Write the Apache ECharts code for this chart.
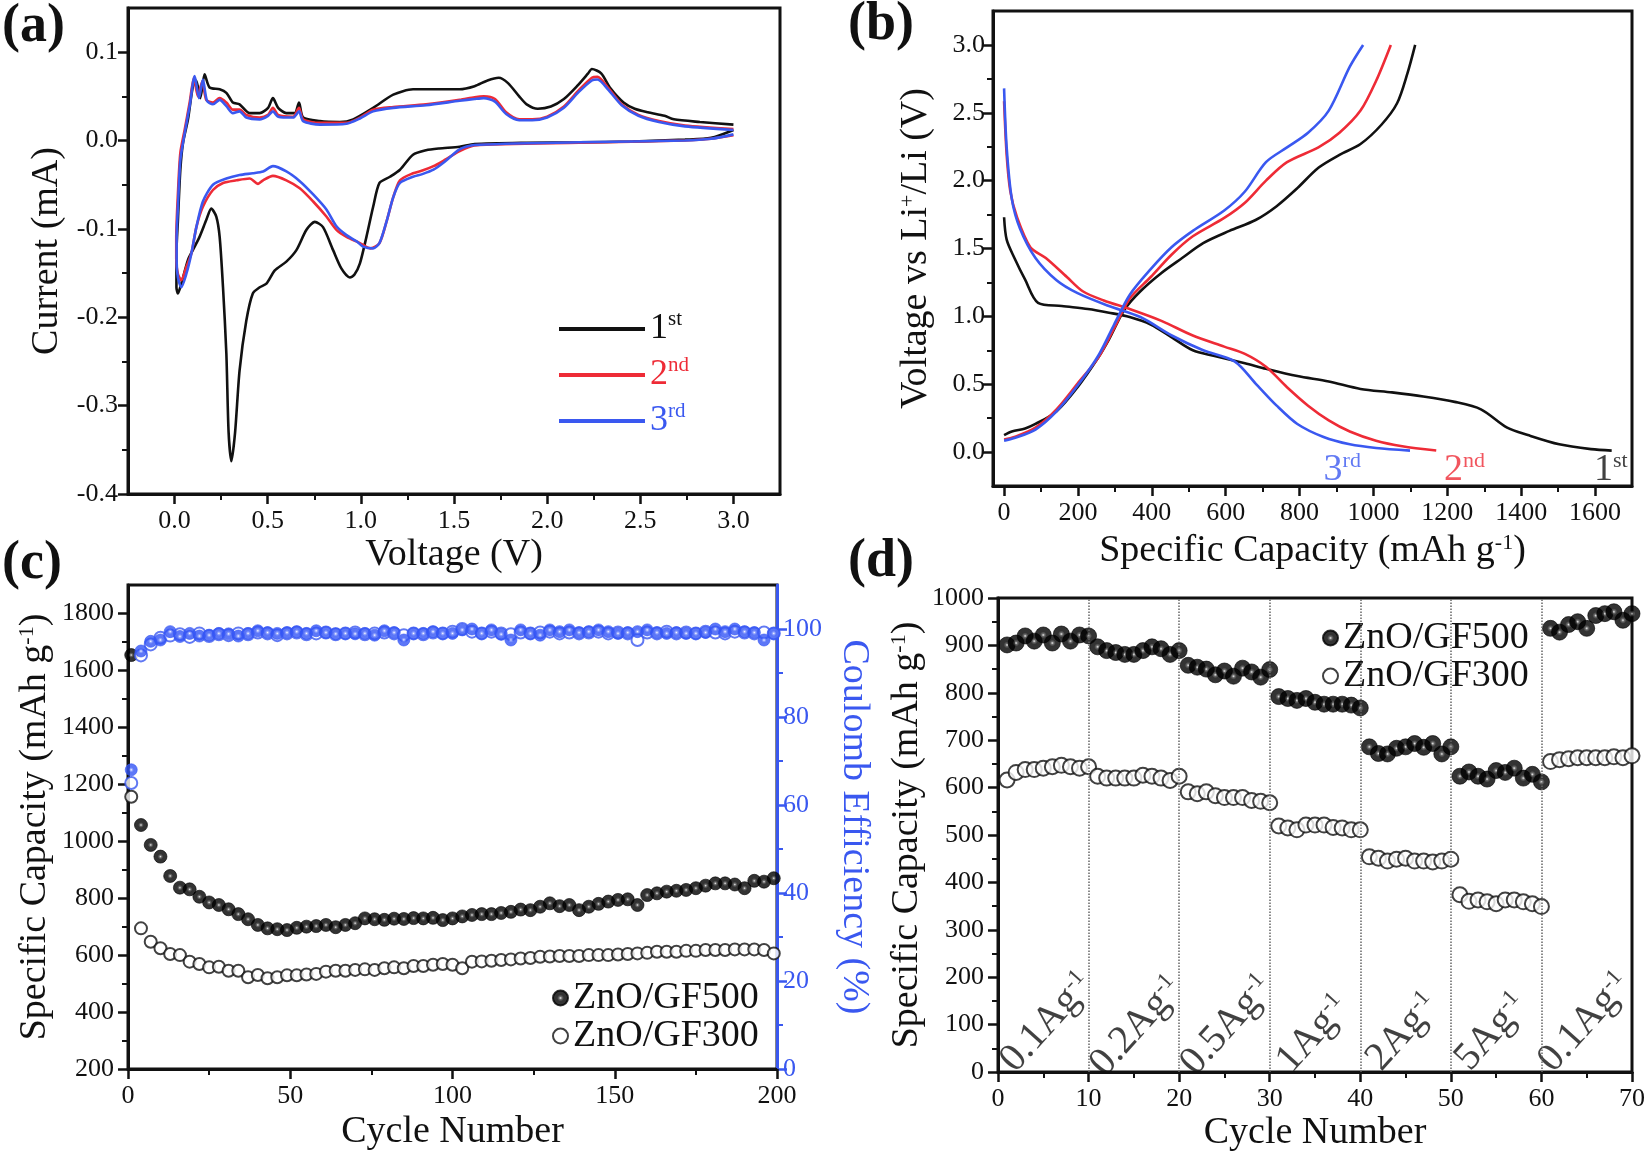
<!DOCTYPE html>
<html>
<head>
<meta charset="utf-8">
<script src="https://cdn.jsdelivr.net/npm/echarts@6/dist/echarts.min.js"></script>
<style>
  html, body { margin: 0; padding: 0; background: #fff; }
  #chart { width: 1649px; height: 1155px; }
</style>
</head>
<body>
<div id="chart"></div>
<script>
// ---- (a) cyclic voltammetry, [voltage V, current mA] in sweep order ----
const cv1st = [[3.0,0.012],[2.88,0.003],[2.74,0.001],[2.46,-0.001],[2.17,-0.002],[1.89,-0.0025],[1.61,-0.004],[1.53,-0.007],[1.42,-0.009],[1.35,-0.011],[1.28,-0.016],[1.21,-0.033],[1.156,-0.041],[1.10,-0.048],[1.066,-0.075],[1.03,-0.109],[0.995,-0.139],[0.965,-0.152],[0.941,-0.155],[0.896,-0.145],[0.851,-0.124],[0.797,-0.098],[0.753,-0.092],[0.708,-0.101],[0.654,-0.124],[0.60,-0.137],[0.538,-0.147],[0.493,-0.162],[0.457,-0.166],[0.42,-0.173],[0.385,-0.204],[0.349,-0.26],[0.325,-0.33],[0.305,-0.363],[0.29,-0.33],[0.278,-0.241],[0.26,-0.166],[0.242,-0.109],[0.224,-0.086],[0.197,-0.077],[0.17,-0.09],[0.134,-0.109],[0.098,-0.124],[0.072,-0.135],[0.036,-0.162],[0.018,-0.173],[0.01,-0.166],
  [0.01,-0.128],[0.018,-0.09],[0.031,-0.033],[0.045,-0.003],[0.072,0.024],[0.098,0.061],[0.116,0.068],[0.138,0.048],[0.161,0.075],[0.188,0.06],[0.242,0.058],[0.278,0.054],[0.313,0.043],[0.349,0.041],[0.403,0.031],[0.457,0.031],[0.502,0.037],[0.528,0.048],[0.556,0.037],[0.60,0.031],[0.645,0.031],[0.668,0.043],[0.69,0.026],[0.78,0.022],[0.887,0.021],[0.959,0.024],[1.066,0.037],[1.174,0.052],[1.28,0.058],[1.53,0.058],[1.61,0.0615],[1.68,0.068],[1.74,0.071],[1.79,0.065],[1.85,0.050],[1.89,0.041],[1.95,0.036],[2.02,0.0385],[2.09,0.047],[2.16,0.0615],[2.22,0.076],[2.24,0.081],[2.29,0.076],[2.34,0.059],[2.41,0.043],[2.47,0.036],[2.54,0.032],[2.63,0.028],[2.68,0.024],[2.82,0.021],[3.0,0.018]];
const cv2nd = [[3.0,0.006],[2.88,0.002],[2.74,0.0],[2.17,-0.0025],[1.61,-0.0055],[1.53,-0.012],[1.45,-0.022],[1.39,-0.029],[1.33,-0.034],[1.28,-0.037],[1.21,-0.045],[1.174,-0.064],[1.14,-0.09],[1.10,-0.116],[1.05,-0.122],[0.995,-0.116],[0.923,-0.109],[0.869,-0.101],[0.815,-0.086],[0.744,-0.069],[0.672,-0.054],[0.60,-0.045],[0.528,-0.040],[0.475,-0.045],[0.448,-0.049],[0.403,-0.043],[0.332,-0.045],[0.26,-0.048],[0.206,-0.056],[0.152,-0.075],[0.117,-0.098],[0.09,-0.128],[0.063,-0.143],[0.036,-0.158],[0.018,-0.151],[0.009,-0.134],
  [0.009,-0.11],[0.018,-0.06],[0.031,-0.014],[0.054,0.012],[0.081,0.043],[0.104,0.071],[0.125,0.05],[0.149,0.067],[0.17,0.046],[0.206,0.043],[0.242,0.048],[0.278,0.043],[0.313,0.035],[0.349,0.035],[0.385,0.029],[0.457,0.026],[0.502,0.029],[0.528,0.037],[0.556,0.029],[0.636,0.027],[0.668,0.037],[0.69,0.024],[0.78,0.020],[0.923,0.020],[0.995,0.026],[1.066,0.035],[1.174,0.038],[1.35,0.041],[1.53,0.046],[1.61,0.049],[1.66,0.050],[1.72,0.047],[1.78,0.032],[1.85,0.024],[1.92,0.024],[2.0,0.027],[2.09,0.0385],[2.17,0.057],[2.24,0.071],[2.27,0.072],[2.33,0.059],[2.40,0.041],[2.49,0.029],[2.60,0.022],[2.74,0.017],[3.0,0.013]];
const cv3rd = [[3.0,0.007],[2.88,0.002],[2.74,0.0],[2.17,-0.002],[1.61,-0.005],[1.53,-0.010],[1.45,-0.024],[1.39,-0.033],[1.33,-0.038],[1.28,-0.041],[1.21,-0.048],[1.174,-0.064],[1.14,-0.09],[1.10,-0.116],[1.066,-0.122],[1.012,-0.12],[0.977,-0.114],[0.923,-0.107],[0.869,-0.097],[0.815,-0.078],[0.744,-0.061],[0.672,-0.046],[0.60,-0.035],[0.528,-0.029],[0.475,-0.035],[0.42,-0.037],[0.349,-0.039],[0.278,-0.043],[0.206,-0.050],[0.152,-0.069],[0.117,-0.098],[0.09,-0.128],[0.063,-0.151],[0.036,-0.166],[0.018,-0.155],[0.011,-0.136],
  [0.011,-0.11],[0.018,-0.075],[0.031,-0.022],[0.054,0.008],[0.081,0.039],[0.108,0.073],[0.131,0.048],[0.152,0.069],[0.174,0.045],[0.206,0.041],[0.242,0.046],[0.278,0.039],[0.313,0.031],[0.349,0.033],[0.385,0.026],[0.457,0.024],[0.502,0.028],[0.528,0.033],[0.556,0.027],[0.636,0.026],[0.668,0.033],[0.69,0.022],[0.78,0.018],[0.923,0.019],[0.995,0.025],[1.066,0.033],[1.174,0.037],[1.35,0.040],[1.53,0.045],[1.61,0.047],[1.66,0.048],[1.72,0.044],[1.78,0.030],[1.85,0.023],[1.92,0.023],[2.0,0.026],[2.09,0.037],[2.17,0.055],[2.24,0.068],[2.27,0.069],[2.33,0.057],[2.40,0.040],[2.49,0.028],[2.60,0.021],[2.74,0.016],[3.0,0.012]];

// ---- (b) charge/discharge profiles, [capacity mAh/g, voltage V] ----
const dis1st = [[0,1.73],[7,1.565],[28,1.43],[57,1.27],[92,1.10],[156,1.076],[227,1.054],[284,1.027],[340,0.995],[397,0.94],[454,0.845],[511,0.75],[567,0.71],[652,0.655],[709,0.614],[794,0.56],[879,0.52],[965,0.465],[1050,0.44],[1135,0.41],[1220,0.37],[1291,0.315],[1362,0.18],[1418,0.125],[1503,0.057],[1589,0.022],[1645,0.011]];
const chg1st = [[0,0.125],[21,0.152],[57,0.174],[85,0.207],[142,0.30],[199,0.478],[255,0.696],[284,0.83],[326,1.05],[369,1.185],[426,1.32],[482,1.43],[539,1.54],[610,1.63],[681,1.71],[737,1.81],[794,1.945],[851,2.095],[908,2.19],[965,2.27],[1021,2.41],[1064,2.57],[1092,2.79],[1113,3.0]];
const dis2nd = [[0,2.585],[7,2.19],[17,1.92],[35,1.73],[71,1.51],[113,1.43],[170,1.29],[213,1.185],[270,1.117],[340,1.054],[426,0.967],[511,0.859],[596,0.777],[652,0.723],[709,0.628],[766,0.478],[823,0.342],[879,0.234],[936,0.152],[1007,0.084],[1078,0.043],[1170,0.011]];
const chg2nd = [[0,0.092],[28,0.111],[85,0.18],[142,0.315],[199,0.505],[255,0.696],[298,0.913],[340,1.13],[397,1.29],[454,1.456],[511,1.59],[596,1.725],[652,1.837],[709,2.0],[766,2.136],[851,2.245],[908,2.353],[965,2.516],[1007,2.734],[1047,3.0]];
const dis3rd = [[0,2.68],[7,2.245],[21,1.864],[43,1.647],[85,1.43],[142,1.266],[199,1.171],[284,1.076],[369,0.995],[454,0.859],[539,0.75],[624,0.668],[681,0.505],[738,0.342],[794,0.207],[865,0.111],[936,0.057],[1007,0.030],[1099,0.011]];
const chg3rd = [[0,0.084],[28,0.103],[85,0.166],[142,0.30],[199,0.49],[255,0.71],[298,0.94],[340,1.158],[397,1.348],[454,1.511],[511,1.63],[596,1.78],[652,1.92],[709,2.136],[766,2.245],[823,2.353],[879,2.516],[936,2.84],[972,3.0]];

// ---- (c) long cycling ----
const cyclesC = [1,4,7,10,13,16,19,22,25,28,31,34,37,40,43,46,49,52,55,58,61,64,67,70,73,76,79,82,85,88,91,94,97,100,103,106,109,112,115,118,121,124,127,130,133,136,139,142,145,148,151,154,157,160,163,166,169,172,175,178,181,184,187,190,193,196,199];
const capGF500 = [1654,1057,987,946,878,837,831,805,785,776,761,744,726,706,694,691,688,696,700,702,706,698,706,712,729,726,724,728,727,730,729,731,723,729,736,741,744,744,748,752,760,758,770,782,772,776,758,770,780,788,794,796,776,811,817,823,826,829,835,844,852,852,848,835,861,858,870];
const capGF300 = [1156,694,647,624,604,600,577,569,557,559,545,545,522,530,519,522,529,529,532,534,542,545,545,548,550,548,554,557,554,562,562,566,569,566,554,577,578,580,583,585,588,590,594,595,597,597,597,600,600,600,602,604,606,608,612,612,612,615,615,618,618,618,620,620,620,618,606];
const ceGF500 = [68,95,97.2,97.5,99.4,98.3,99.0,98.4,98.6,99.0,98.9,98.4,99.0,99.6,99.2,99.0,99.2,99.4,99.0,99.6,99.2,98.9,99.0,98.9,99.0,98.6,99.6,99.2,97.5,99.0,99.0,99.4,99.0,99.0,99.8,100.0,99.0,99.8,98.8,97.5,99.8,99.0,98.6,99.8,99.4,99.8,99.2,99.4,99.8,99.4,99.0,99.2,99.4,99.8,99.2,99.0,99.2,99.0,99.0,99.2,100.0,99.4,100.0,99.4,99.2,97.5,99.0];
const ceGF300 = [65,94,96.5,98,98.5,98.8,98.2,99.0,98.4,98.8,98.6,99.0,98.8,99.2,99.0,98.6,99.0,99.2,98.8,99.0,99.2,98.8,99.0,99.2,98.8,99.0,99.2,99.0,98.6,99.0,98.8,99.2,99.0,99.4,100.0,99.4,99.0,99.4,99.0,98.8,99.2,99.0,99.2,99.4,99.0,99.2,99.0,99.2,99.4,99.0,99.2,99.0,97.5,99.2,99.0,99.4,99.0,99.2,99.0,99.4,99.2,99.0,99.4,99.2,99.0,99.2,99.0];

// ---- (d) rate capability ----
const cyclesD = [1,2,3,4,5,6,7,8,9,10,11,12,13,14,15,16,17,18,19,20,21,22,23,24,25,26,27,28,29,30,31,32,33,34,35,36,37,38,39,40,41,42,43,44,45,46,47,48,49,50,51,52,53,54,55,56,57,58,59,60,61,62,63,64,65,66,67,68,69,70];
const rateGF500 = [901,905,920,909,922,905,924,909,922,920,897,889,885,881,881,889,897,893,881,889,858,854,850,838,846,835,852,844,833,849,792,788,784,788,780,776,776,776,774,768,686,672,671,683,686,693,685,693,671,686,624,633,624,618,636,632,641,620,628,612,936,928,944,950,936,963,967,971,953,967];
const rateGF300 = [616,632,638,638,641,644,647,644,641,644,624,620,620,620,620,626,624,620,615,624,591,587,591,583,579,579,579,573,571,568,519,515,511,521,521,521,516,515,511,511,454,451,445,449,451,445,445,443,445,449,374,360,363,359,355,363,363,359,355,349,655,659,661,663,663,663,663,665,663,667];
const rateSteps = [10,20,30,40,50,60];
const rateNames = ['0.1Ag{s|-1}','0.2Ag{s|-1}','0.5Ag{s|-1}','1Ag{s|-1}','2Ag{s|-1}','5Ag{s|-1}','0.1Ag{s|-1}'];
const rateNameAt = [[5.4,104],[15.3,96],[25.3,98],[34.8,80],[44.7,84],[54.5,84],[64.8,104]];

const cycleTags = ['1st','2nd','3rd'];
const cycleTagAt = [[1597,-0.13],[1191,-0.13],[865,-0.13]];

const FONT = '"Liberation Serif", "Times New Roman", serif';
const INK = '#111';
const RED = '#ee2b36';
const BLUE = '#3a58f0';

const chart = echarts.init(document.getElementById('chart'));

const supRich = (size, color) => ({ s: { fontFamily: FONT, fontSize: size, verticalAlign: 'top', color: color } });

// major axis (line, long ticks, labels, name) and a twin that only draws short minor ticks
function axisPair(grid, o) {
  const color = o.color || INK;
  const major = {
    type: 'value', gridIndex: grid, min: o.min, max: o.max, position: o.pos,
    axisLine: { show: true, onZero: false, lineStyle: { color: color, width: 3 } },
    axisTick: { show: true, inside: false, length: 10, customValues: o.ticks, lineStyle: { color: color, width: 2.5 } },
    axisLabel: { show: true, customValues: o.ticks, margin: o.margin, fontFamily: FONT, fontSize: 26, color: color, formatter: o.fmt || (v => String(v)) },
    splitLine: { show: false },
    name: o.name, nameLocation: 'middle', nameGap: o.gap, nameRotate: o.rotate,
    nameTextStyle: { fontFamily: FONT, fontSize: 38, color: color, rich: supRich(22, color) }
  };
  const minor = {
    type: 'value', gridIndex: grid, min: o.min, max: o.max, position: o.pos,
    axisLine: { show: false, onZero: false },
    axisTick: { show: true, inside: false, length: 6, customValues: o.minor, lineStyle: { color: color, width: 2 } },
    axisLabel: { show: false },
    splitLine: { show: false }
  };
  return [major, minor];
}

const f1 = v => v.toFixed(1);
const capName = 'Specific Capacity (mAh g{s|-1})';

const xAxes = [
  ...axisPair(0, { pos: 'bottom', min: -0.25, max: 3.25, ticks: [0,0.5,1,1.5,2,2.5,3], minor: [0.25,0.75,1.25,1.75,2.25,2.75], fmt: f1, margin: 14, name: 'Voltage (V)', gap: 42 }),
  ...axisPair(1, { pos: 'bottom', min: -30, max: 1700, ticks: [0,200,400,600,800,1000,1200,1400,1600], minor: [100,300,500,700,900,1100,1300,1500], margin: 14, name: capName, gap: 46 }),
  ...axisPair(2, { pos: 'bottom', min: 0, max: 200, ticks: [0,50,100,150,200], minor: [25,75,125,175], margin: 14, name: 'Cycle Number', gap: 44 }),
  ...axisPair(3, { pos: 'bottom', min: 0, max: 70, ticks: [0,10,20,30,40,50,60,70], minor: [5,15,25,35,45,55,65], margin: 14, name: 'Cycle Number', gap: 42 })
];
const yAxes = [
  ...axisPair(0, { pos: 'left', min: -0.4, max: 0.15, ticks: [-0.4,-0.3,-0.2,-0.1,0,0.1], minor: [-0.35,-0.25,-0.15,-0.05,0.05], fmt: f1, margin: 10, name: 'Current (mA)', gap: 62 }),
  ...axisPair(1, { pos: 'left', min: -0.25, max: 3.25, ticks: [0,0.5,1,1.5,2,2.5,3], minor: [0.25,0.75,1.25,1.75,2.25,2.75], fmt: f1, margin: 8, name: 'Voltage vs Li{s|+}/Li (V)', gap: 58 }),
  ...axisPair(2, { pos: 'left', min: 200, max: 1900, ticks: [200,400,600,800,1000,1200,1400,1600,1800], minor: [300,500,700,900,1100,1300,1500,1700], margin: 14, name: capName, gap: 74 }),
  ...axisPair(2, { pos: 'right', min: 0, max: 110, ticks: [0,20,40,60,80,100], minor: [10,30,50,70,90], margin: 6, name: 'Coulomb Efficiency (%)', gap: 58, rotate: -90, color: BLUE }),
  ...axisPair(3, { pos: 'left', min: 0, max: 1000, ticks: [0,100,200,300,400,500,600,700,800,900,1000], minor: [50,150,250,350,450,550,650,750,850,950], margin: 14, name: capName, gap: 72 })
];

const ball = (core, mid, edge) => ({
  type: 'radial', x: 0.5, y: 0.5, r: 0.5,
  colorStops: [{ offset: 0, color: core }, { offset: 0.18, color: mid }, { offset: 0.4, color: edge }, { offset: 1, color: edge }]
});
const blackBall = ball('#e8e8e8', '#444', '#000');
const blueBall = ball('#ffffff', '#7d93ff', '#3455f5');

const cvLine = (name, data, color) => ({
  name: name, type: 'line', xAxisIndex: 0, yAxisIndex: 0, data: data,
  symbol: 'none', smooth: 0.25, lineStyle: { color: color, width: 2.6 }, itemStyle: { color: color }
});
const gcdLine = (name, data, color) => ({
  name: name, type: 'line', xAxisIndex: 2, yAxisIndex: 2, data: data,
  symbol: 'none', smooth: 0.3, lineStyle: { color: color, width: 2.6 }, itemStyle: { color: color }
});
const zip = (xs, ys) => xs.map((x, i) => [x, ys[i]]);

const series = [
  cvLine('1st', cv1st, INK), cvLine('2nd', cv2nd, RED), cvLine('3rd', cv3rd, BLUE),
  gcdLine('b1d', dis1st, INK), gcdLine('b1c', chg1st, INK),
  gcdLine('b2d', dis2nd, RED), gcdLine('b2c', chg2nd, RED),
  gcdLine('b3d', dis3rd, BLUE), gcdLine('b3c', chg3rd, BLUE),
  {
    name: 'tags', type: 'scatter', xAxisIndex: 2, yAxisIndex: 2, symbolSize: 0, silent: true,
    data: cycleTagAt.map((p, i) => ({ value: p, label: { color: [INK, RED, BLUE][i] } })),
    label: {
      show: true, position: 'right', distance: 0,
      formatter: p => '{m|' + cycleTags[p.dataIndex][0] + '}{s|' + cycleTags[p.dataIndex].slice(1) + '}',
      rich: { m: { fontFamily: FONT, fontSize: 38 }, s: { fontFamily: FONT, fontSize: 22, verticalAlign: 'top' } }
    }
  },
  {
    name: 'ZnO/GF300', type: 'scatter', xAxisIndex: 4, yAxisIndex: 4, data: zip(cyclesC, capGF300),
    symbol: 'circle', symbolSize: 12, itemStyle: { color: '#fff', borderColor: INK, borderWidth: 2 }
  },
  {
    name: 'ZnO/GF500', type: 'scatter', xAxisIndex: 4, yAxisIndex: 4, data: zip(cyclesC, capGF500),
    symbol: 'circle', symbolSize: 13, itemStyle: { color: blackBall, borderColor: '#000', borderWidth: 0.8 }
  },
  {
    name: 'CE300', type: 'scatter', xAxisIndex: 4, yAxisIndex: 6, data: zip(cyclesC, ceGF300),
    symbol: 'circle', symbolSize: 12, itemStyle: { color: '#fff', borderColor: BLUE, borderWidth: 2 }
  },
  {
    name: 'CE500', type: 'scatter', xAxisIndex: 4, yAxisIndex: 6, data: zip(cyclesC, ceGF500),
    symbol: 'circle', symbolSize: 12, itemStyle: { color: blueBall, borderColor: '#3455f5', borderWidth: 0.8 }
  },
  {
    name: 'ZnO/GF300', type: 'scatter', xAxisIndex: 6, yAxisIndex: 8, data: zip(cyclesD, rateGF300),
    symbol: 'circle', symbolSize: 15, itemStyle: { color: '#fff', borderColor: INK, borderWidth: 2 }
  },
  {
    name: 'ZnO/GF500', type: 'scatter', xAxisIndex: 6, yAxisIndex: 8, data: zip(cyclesD, rateGF500),
    symbol: 'circle', symbolSize: 16, itemStyle: { color: blackBall, borderColor: '#000', borderWidth: 0.8 },
    markLine: {
      silent: true, symbol: 'none', label: { show: false },
      lineStyle: { type: 'dotted', color: '#666', width: 1.5 },
      data: rateSteps.map(x => ({ xAxis: x }))
    }
  },
  {
    name: 'rates', type: 'scatter', xAxisIndex: 6, yAxisIndex: 8, symbolSize: 0, silent: true,
    data: rateNameAt,
    label: {
      show: true, position: 'inside', rotate: 48, color: INK,
      fontFamily: FONT, fontSize: 40,
      formatter: p => rateNames[p.dataIndex],
      rich: supRich(23, INK)
    }
  }
];

const panelTitle = (text, left, top) => ({
  text: text, left: left, top: top, padding: 0,
  textStyle: { fontFamily: FONT, fontWeight: 'bold', fontSize: 54, color: INK }
});

const legendBase = {
  orient: 'vertical', padding: 0, itemGap: 0, icon: 'circle', itemWidth: 15, itemHeight: 15,
  textStyle: { fontFamily: FONT, fontSize: 38, color: INK, lineHeight: 36 }
};

chart.setOption({
  backgroundColor: '#fff',
  animation: false,
  title: [
    panelTitle('(a)', 2, 0), panelTitle('(b)', 848, -2),
    panelTitle('(c)', 2, 537), panelTitle('(d)', 848, 535)
  ],
  grid: [
    { left: 128, top: 8, width: 652, height: 486, show: true, borderColor: INK, borderWidth: 3 },
    { left: 993, top: 11, width: 639, height: 475, show: true, borderColor: INK, borderWidth: 3 },
    { left: 128, top: 585, width: 649, height: 484, show: true, borderColor: INK, borderWidth: 3 },
    { left: 998, top: 598, width: 634, height: 474, show: true, borderColor: INK, borderWidth: 3 }
  ],
  legend: [
    {
      left: 559, top: 309, orient: 'vertical', padding: 0, itemGap: 6,
      icon: 'rect', itemWidth: 86, itemHeight: 4,
      data: [
        { name: '1st', textStyle: { color: INK } },
        { name: '2nd', textStyle: { color: RED } },
        { name: '3rd', textStyle: { color: BLUE } }
      ],
      formatter: n => '{m|' + n[0] + '}{s|' + n.slice(1) + '}',
      textStyle: {
        fontFamily: FONT, fontSize: 34, lineHeight: 40,
        rich: { m: { fontFamily: FONT, fontSize: 36 }, s: { fontFamily: FONT, fontSize: 21, verticalAlign: 'top' } }
      }
    },
    Object.assign({}, legendBase, { left: 552, top: 979, data: ['ZnO/GF500', 'ZnO/GF300'] }),
    Object.assign({}, legendBase, { left: 1322, top: 619, data: ['ZnO/GF500', 'ZnO/GF300'] })
  ],
  xAxis: xAxes,
  yAxis: yAxes,
  series: series
});

window.addEventListener('resize', () => chart.resize());
</script>
</body>
</html>
